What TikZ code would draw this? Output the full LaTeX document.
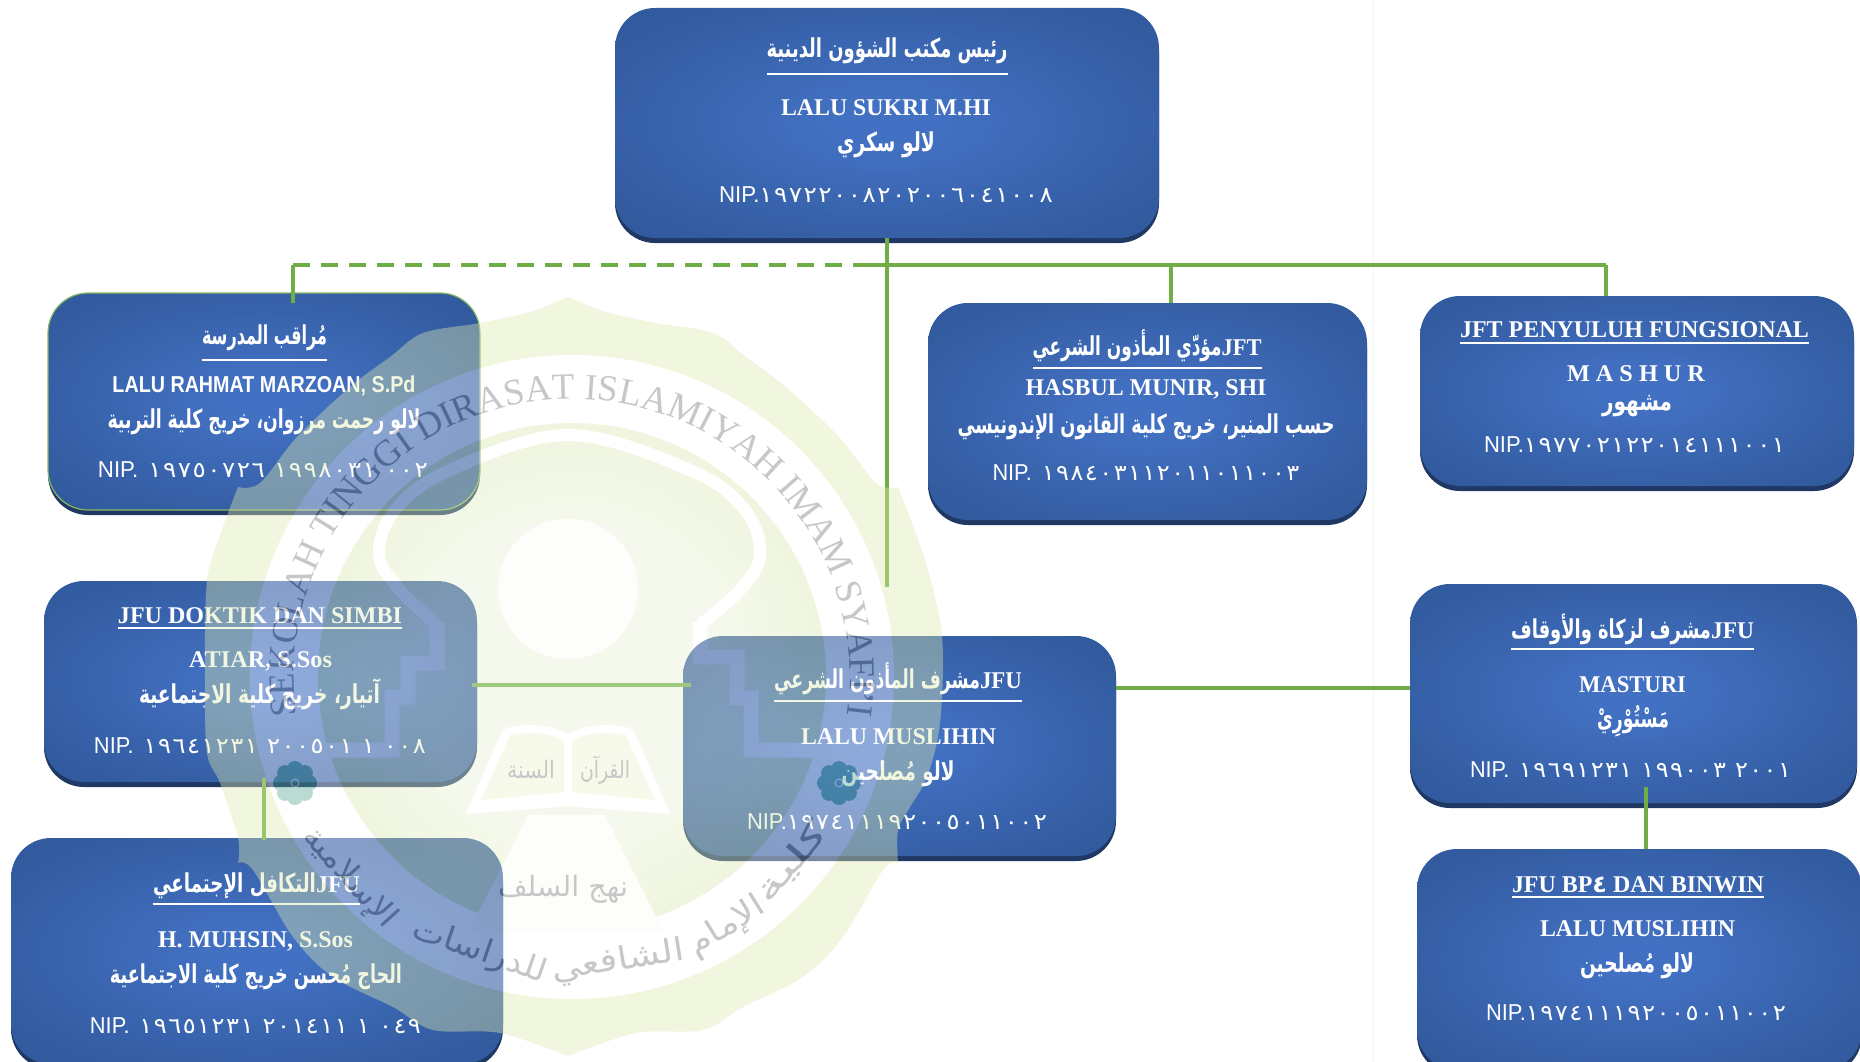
\documentclass[tikz,border=0pt]{standalone}
\usepackage{fontspec}
\usepackage{graphicx}
\usetikzlibrary{shadows,decorations.text}
\setmainfont{Liberation Serif}
\newfontfamily\arialf{Liberation Sans}
\newfontfamily\arfont[Script=Arabic]{DejaVu Sans}
\newfontfamily\digfont[Script=Arabic,LetterSpace=6]{DejaVu Sans}
\TeXXeTstate=1
\definecolor{linegreen}{HTML}{70AD47}
\definecolor{shadowblue}{HTML}{203864}
\definecolor{wmA}{RGB}{222,234,175}
\definecolor{wmB}{RGB}{207,226,155}
\definecolor{wmW}{RGB}{255,255,255}
\definecolor{wmT}{RGB}{115,115,115}
\definecolor{wmF}{RGB}{80,165,145}
\pgfdeclareradialshading{cardshade}{\pgfpoint{0bp}{0bp}}{rgb(0bp)=(.26,.44,.76);rgb(5bp)=(.26,.44,.76);rgb(29bp)=(.20,.36,.63);rgb(50bp)=(.18,.33,.59)}
\pgfdeclareradialshading{discshade}{\pgfpoint{0bp}{0bp}}{rgb(0bp)=(.91,.95,.83);rgb(15bp)=(.91,.95,.83);rgb(30bp)=(.812,.886,.608);rgb(50bp)=(.812,.886,.608)}
\tikzset{
  card/.style={rectangle,inner sep=0pt,outer sep=0pt,rounded corners=40pt,shading=cardshade,
    copy shadow={shadow xshift=0pt,shadow yshift=-5pt,fill=shadowblue,draw=none,opacity=1}},
  tx/.style={anchor=base,inner sep=0pt,outer sep=0pt,text=white},
  conn/.style={draw=linegreen,line width=4pt},
  dashconn/.style={draw=linegreen,line width=4pt,dash pattern=on 17pt off 11pt},
  wmt/.style={anchor=base,inner sep=0pt,outer sep=0pt,text=wmT},
}
\newbox\ttlbox
\newcommand\fw[2]{\resizebox{#1pt}{\height}{#2}}
\newcommand\ttl[2]{\setbox\ttlbox=\hbox{#2}\dp\ttlbox=0pt\vtop{\copy\ttlbox\kern#1pt\hrule height 1.8pt}}
\newcommand\arb[2][26]{{\arfont\fontsize{#1}{#1}\selectfont\bfseries\beginR #2\endR}}
\newcommand\arw[2][32]{{\arfont\fontsize{#1}{#1}\selectfont\beginR #2\endR}}
\newcommand\nm[1]{{\fontsize{24}{28}\selectfont\bfseries #1}}
\newcommand\nip[2]{\fw{36}{\arialf\fontsize{23}{26}\selectfont NIP.}{#1}{\digfont\fontsize{22}{26}\selectfont\beginR #2\endR}}
\newcommand\cardbox[6][]{\node[card,minimum width={(#5-#3)*1pt},minimum height={(#6-#4)*1pt},#1] (#2) at ({(#3+#5)/2},{(#4+#6)/2}) {};}
\newcommand\flowerat[2]{\foreach \a in {0,45,...,315}{\fill[wmF] (#1,#2) ++(\a:14pt) circle[radius=8pt];}
  \fill[wmF] (#1,#2) circle[radius=11pt];
  \draw[wmW,line width=1pt] (#1,#2) circle[radius=4pt];}
\begin{document}
\begin{tikzpicture}[x=1pt,y=-1pt]
\path[use as bounding box,clip] (0,0) rectangle (1860,1062);
\fill[white] (0,0) rectangle (1860,1062);
\draw[black!4,line width=1pt] (1373,0) -- (1373,1062);
% cards
\cardbox{top}{615}{8}{1159}{238}
\cardbox[draw=linegreen!85!white,line width=1.2pt]{marzoan}{48}{293}{480}{510}
\cardbox{hasbul}{928}{303}{1367}{520}
\cardbox{mashur}{1420}{296}{1854}{486}
\cardbox{doktik}{44}{581}{477}{782}
\cardbox{takaful}{11}{838}{503}{1064}
\cardbox{center}{683}{636}{1116}{856}
\cardbox{masturi}{1410}{584}{1857}{803}
\cardbox{bpf}{1417}{849}{1862}{1070}
% connectors
\coordinate (j0) at (887,265);
\coordinate (jL) at (293,265);
\coordinate (jD) at (866,265);
\coordinate (jH) at (1171,265);
\coordinate (jM) at (1606,265);
\coordinate (jC) at (887,587);
\draw[dashconn] (jL) -- (jD);
\draw[conn] (jD) -- (jM);
\draw[conn] (top.south) -- (jC);
\draw[conn] (jL) -- ([xshift=29pt,yshift=-10pt]marzoan.north);
\draw[conn] (jH) -- ([xshift=23.5pt]hasbul.north);
\draw[conn] (jM) -- ([xshift=-31pt]mashur.north);
\draw[conn] ([xshift=-5pt,yshift=-3.5pt]doktik.east) -- ([xshift=8pt,yshift=61pt]center.west);
\draw[conn] ([yshift=58pt]center.east) -- ([yshift=5.5pt]masturi.west);
\draw[conn] ([xshift=3.5pt,yshift=4pt]doktik.south) -- ([xshift=7pt,yshift=-2pt]takaful.north);
\draw[conn] ([xshift=12.5pt,yshift=16pt]masturi.south) -- ([xshift=6.5pt]bpf.north);
% top
\node[tx] (t1) at (887,58) {\fw{241}{\ttl{15}{\arb{رئيس مكتب الشؤون الدينية}}}};
\node[tx] (t2) at (886,116) {\fw{210}{\nm{LALU SUKRI M.HI}}};
\node[tx] (t3) at (886,152) {\fw{98}{\arb{لالو سكري}}};
\node[tx] (t4) at (886,202) {\fw{334}{\nip{}{١٩٧٢٢٠٠٨٢٠٢٠٠٦٠٤١٠٠٨}}};
% marzoan
\node[tx] (m1) at (264.5,344) {\fw{125}{\ttl{15}{\arb{مُراقب المدرسة}}}};
\node[tx] (m2) at (264,392) {\fw{303}{{\arialf\fontsize{23}{26}\selectfont\bfseries LALU RAHMAT MARZOAN, S.Pd}}};
\node[tx] (m3) at (264,428) {\fw{313}{\arb{لالو رحمت مرزوان، خريج كلية التربية}}};
\node[tx] (m4) at (263,477) {\fw{330}{\nip{\hspace{9pt}}{٠٠٢ ١٩٩٨٠٣١ ١٩٧٥٠٧٢٦}}};
% hasbul
\node[tx] (h1) at (1147,355) {\ttl{12}{\fw{189}{\arb{مؤدّي المأذون الشرعي}}\fw{40}{\nm{JFT}}}};
\node[tx] (h2) at (1146,395) {\fw{241}{\nm{HASBUL MUNIR, SHI}}};
\node[tx] (h3) at (1146,433) {\fw{377}{\arb{حسب المنير، خريج كلية القانون الإندونيسي}}};
\node[tx] (h4) at (1146,480) {\fw{307}{\nip{\hspace{9pt}}{١٩٨٤٠٣١١٢٠١١٠١١٠٠٣}}};
% mashur
\node[tx] (s1) at (1634.5,337) {\fw{349}{\ttl{5}{\nm{JFT PENYULUH FUNGSIONAL}}}};
\node[tx] (s2) at (1636,381) {\fw{138}{\nm{M A S H U R}}};
\node[tx] (s3) at (1637,410) {\fw{70}{\arb{مشهور}}};
\node[tx] (s4) at (1634.5,452) {\fw{301}{\nip{}{١٩٧٧٠٢١٢٢٠١٤١١١٠٠١}}};
% doktik
\node[tx] (d1) at (260,623) {\fw{284}{\ttl{4}{\nm{JFU DOKTIK DAN SIMBI}}}};
\node[tx] (d2) at (260.5,667) {\fw{143}{\nm{ATIAR, S.Sos}}};
\node[tx] (d3) at (259.5,703) {\fw{241}{\arb{آتيار، خريج كلية الاجتماعية}}};
\node[tx] (d4) at (260,753) {\fw{332}{\nip{\hspace{9pt}}{٠٠٨ ١ ٢٠٠٥٠١ ١٩٦٤١٢٣١}}};
% takaful
\node[tx] (k1) at (256.5,892) {\ttl{11}{\fw{163}{\arb{التكافل الإجتماعي}}\fw{44}{\nm{JFU}}}};
\node[tx] (k2) at (255.5,947) {\fw{195}{\nm{H. MUHSIN, S.Sos}}};
\node[tx] (k3) at (256,983) {\fw{292}{\arb{الحاج مُحسن خريج كلية الاجتماعية}}};
\node[tx] (k4) at (255.5,1033) {\fw{331}{\nip{\hspace{9pt}}{٠٤٩ ١ ٢٠١٤١١ ١٩٦٥١٢٣١}}};
% center
\node[tx] (c1) at (898,688) {\ttl{12}{\fw{206}{\arb{مشرف المأذون الشرعي}}\fw{42}{\nm{JFU}}}};
\node[tx] (c2) at (898.5,744) {\fw{195}{\nm{LALU MUSLIHIN}}};
\node[tx] (c3) at (898,780) {\fw{113}{\arb{لالو مُصلحين}}};
\node[tx] (c4) at (897,829) {\fw{300}{\nip{}{١٩٧٤١١١٩٢٠٠٥٠١١٠٠٢}}};
% masturi
\node[tx] (u1) at (1632.5,638) {\ttl{10}{\fw{200}{\arb{مشرف لزكاة والأوقاف}}\fw{43}{\nm{JFU}}}};
\node[tx] (u2) at (1632.5,692) {\fw{107}{\nm{MASTURI}}};
\node[tx] (u3) at (1633,727) {\fw{72}{\arb{مَسْتُوْرِيْ}}};
\node[tx] (u4) at (1630.5,777) {\fw{321}{\nip{\hspace{9pt}}{٢٠٠١ ١٩٩٠٠٣ ١٩٦٩١٢٣١}}};
% bp4
\node[tx] (b1) at (1638,892) {\fw{252}{\ttl{4}{\nm{JFU BP{\arfont ٤} DAN BINWIN}}}};
\node[tx] (b2) at (1637.5,936) {\fw{195}{\nm{LALU MUSLIHIN}}};
\node[tx] (b3) at (1637,972) {\fw{114}{\arb{لالو مُصلحين}}};
\node[tx] (b4) at (1636,1020) {\fw{300}{\nip{}{١٩٧٤١١١٩٢٠٠٥٠١١٠٠٢}}};
% watermark drawn over everything
\begin{scope}[transparency group,opacity=.4]
\fill[wmA] plot[smooth,tension=.55] coordinates {(568,297)(530,312)(480,323)(423,333)(390,357)(350,387)(297,437)(260,483)(238,487)}
  -- plot[smooth,tension=.55] coordinates {(238,487)(222,530)(207,581)(205,680)(207,753)(220,783)(238,838)(238,863)}
  -- plot[smooth,tension=.55] coordinates {(238,863)(253,870)(293,937)(333,977)(393,1007)(433,1030)(500,1033)(568,1056)}
  -- plot[smooth,tension=.55] coordinates {(568,1056)(636,1033)(703,1030)(743,1007)(803,977)(843,937)(883,870)(898,863)}
  -- plot[smooth,tension=.55] coordinates {(898,863)(898,830)(910,807)(927,777)(940,723)(942,636)(925,560)(898,487)}
  -- plot[smooth,tension=.55] coordinates {(898,487)(876,483)(839,437)(786,387)(746,357)(713,333)(656,323)(606,312)(568,297)} -- cycle;
\fill[wmW] (572,677) circle[radius=322pt];
\shade[shading=discshade] (572,677) circle[radius=254pt];
% dome and stairs
\draw[wmW,line width=12pt,line join=round] plot[smooth,tension=.6] coordinates {(437,625)(400,590)(379,555)(395,510)(450,470)(568,435)(690,470)(745,510)(760,555)(740,590)(700,625)};
\draw[wmW,line width=15pt,line join=miter] (437,622) -- (437,663) -- (408,663) -- (408,697) -- (392,697) -- (392,750) -- (310,750);
\draw[wmW,line width=15pt,line join=miter] (700,622) -- (700,657) -- (737,657) -- (737,698) -- (751,698) -- (751,750) -- (835,750);
\fill[wmW!92!wmA] (568,589) circle[radius=70pt];
% path under the book
\fill[wmW!85!wmA] (528,815) -- (605,815) -- (663,931) -- (469,931) -- cycle;
% book
\fill[wmW] (568,734) .. controls (545,722) and (520,724) .. (503,729) -- (466,814) -- (568,806) -- (670,814) -- (633,729) .. controls (616,724) and (591,722) .. (568,734) -- cycle;
\fill[wmA!60!white] (564,741) .. controls (545,730) and (525,732) .. (510,735) -- (481,800) -- (564,792) -- cycle;
\fill[wmA!60!white] (572,741) .. controls (591,730) and (611,732) .. (626,735) -- (655,800) -- (572,792) -- cycle;
\node[wmt] (wq) at (605,778) {\fw{50}{\arw[24]{القرآن}}};
\node[wmt] (ws) at (531,778) {\fw{48}{\arw[24]{السنة}}};
\node[wmt] (wn) at (563,896) {\fw{130}{\arw[28]{نهج السلف}}};
\flowerat{295}{783}
\flowerat{839}{783}
% ring text
\begin{scope}[x=1pt,y=1pt,shift={(572pt,-677pt)}]
\path[decorate,decoration={text along path,text align={fit to path},text={|\fontsize{37}{37}\selectfont\color{wmT}|SEKOLAH TINGGI DIRASAT ISLAMIYAH IMAM SYAFI'I}}] (188:278pt) arc[start angle=188,end angle=-7,radius=278pt];
\end{scope}
\node[wmt,anchor=center,rotate=50] (w1) at (792,863) {\fw{95}{\arw{كلية}}};
\node[wmt,anchor=center,rotate=32] (w2) at (727,927) {\fw{85}{\arw{الإمام}}};
\node[wmt,anchor=center,rotate=9] (w3) at (618,962) {\fw{134}{\arw{الشافعي}}};
\node[wmt,anchor=center,rotate=-19] (w4) at (479,952) {\fw{140}{\arw{للدراسات}}};
\node[wmt,anchor=center,rotate=-48] (w5) at (349,878) {\fw{125}{\arw{الإسلامية}}};
\end{scope}
\end{tikzpicture}
\end{document}
